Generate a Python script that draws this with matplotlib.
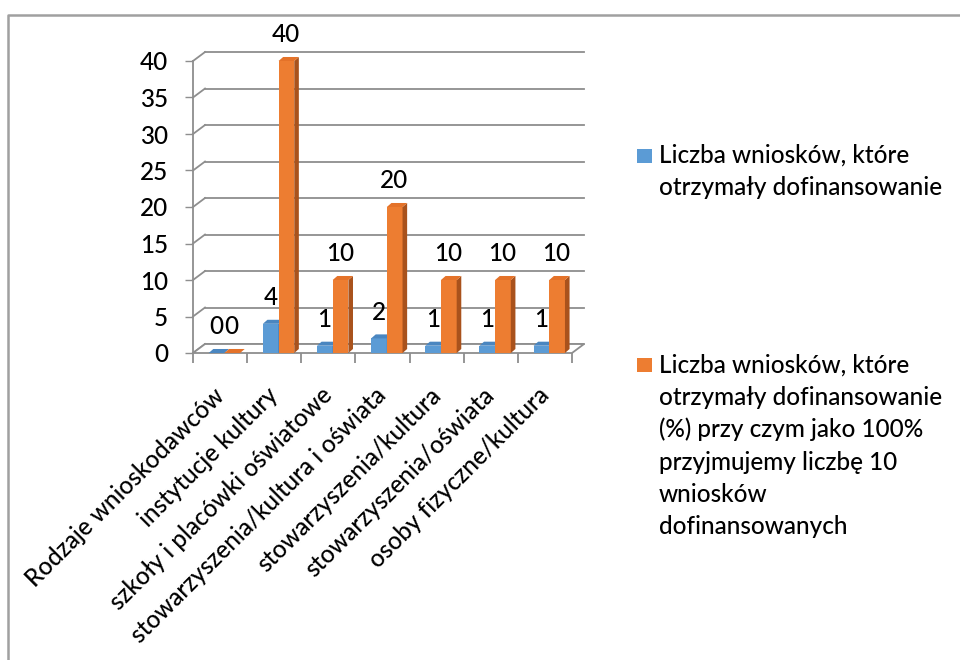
import matplotlib.pyplot as plt
from matplotlib.patches import Polygon, Rectangle
from matplotlib.lines import Line2D
from matplotlib.transforms import ScaledTranslation

plt.rcParams['font.family'] = ['Lato', 'DejaVu Sans']
plt.rcParams['font.weight'] = 500

categories = ["Rodzaje wnioskodawców", "instytucje kultury", "szkoły i placówki oświatowe",
              "stowarzyszenia/kultura i oświata", "stowarzyszenia/kultura",
              "stowarzyszenia/oświata", "osoby fizyczne/kultura"]
wnioski = [0, 4, 1, 2, 1, 1, 1]
procent = [0, 40, 10, 20, 10, 10, 10]
legend_labels = [["Liczba wniosków, które", "otrzymały dofinansowanie"],
                 ["Liczba wniosków, które", "otrzymały dofinansowanie", "(%) przy czym jako 100%",
                  "przyjmujemy liczbę 10", "wniosków", "dofinansowanych"]]
yticks = [0, 5, 10, 15, 20, 25, 30, 35, 40]

blue, blue_top = "#5B9BD5", "#4A86C0"
orange, orange_top, orange_side = "#ED7D31", "#E47229", "#A9521C"
grid_c = "#8E8E8E"
fs = 17.5

W, H = 960, 660
fig = plt.figure(figsize=(9.6, 6.6), dpi=100)
ax = fig.add_axes([193 / W, (H - 353) / H, 379 / W, 292 / H])
n = len(categories)
ax.set_xlim(-0.5, n - 0.5)
ax.set_ylim(0, 40)

# depth offsets (data units)
DX, DY = 0.222, 1.23
bdx, bdy = 0.085, 0.55
w = 0.29

# back wall gridlines and side wall
for v in yticks:
    ax.plot([-0.5 + DX, n - 0.5 + DX], [v + DY, v + DY], color=grid_c, lw=1.3, clip_on=False, zorder=1)
    ax.plot([-0.5, -0.5 + DX], [v, v + DY], color=grid_c, lw=1.3, clip_on=False, zorder=1)

# floor
ax.add_patch(Polygon([(-0.5, 0), (n - 0.5, 0), (n - 0.5 + DX, DY), (-0.5 + DX, DY)],
                     closed=True, facecolor="white", edgecolor=grid_c, lw=1.3, clip_on=False, zorder=2))

xs = list(range(n))
xb = [x - 0.21 for x in xs]
xo = [x + 0.08 for x in xs]


def bar3d(x0, h, front, top, side):
    x1 = x0 + w
    ax.bar(x0, h, width=w, align="edge", color=front, zorder=3, clip_on=False)
    ax.add_patch(Polygon([(x1, 0), (x1 + bdx, bdy), (x1 + bdx, h + bdy), (x1, h)],
                         closed=True, facecolor=side, edgecolor="none", zorder=3, clip_on=False))
    ax.add_patch(Polygon([(x0, h), (x1, h), (x1 + bdx, h + bdy), (x0 + bdx, h + bdy)],
                         closed=True, facecolor=top, edgecolor="none", zorder=3, clip_on=False))


for i in range(n):
    bar3d(xb[i], wnioski[i], blue, blue_top, "#3F72A6")
    bar3d(xo[i], procent[i], orange, orange_top, orange_side)

# data labels
for i in range(n):
    ax.text(xs[i] - 0.07, wnioski[i] + 3.6, str(wnioski[i]), ha="center", va="center", fontsize=fs, zorder=5)
    ax.text(xs[i] + 0.21, procent[i] + 3.6, str(procent[i]), ha="center", va="center", fontsize=fs, zorder=5)

# axes styling
for s in ["top", "right", "bottom"]:
    ax.spines[s].set_visible(False)
ax.spines["left"].set_color(grid_c)
ax.spines["left"].set_linewidth(1.3)
ax.set_yticks(yticks)
ax.tick_params(axis="y", length=5.8, width=1, color=grid_c, pad=12, labelsize=fs)
ax.set_xticks(xs)
ax.set_xticklabels(categories, rotation=45, ha="right", va="top", rotation_mode="anchor", fontsize=fs)
ax.tick_params(axis="x", length=0, pad=22)
shift = ScaledTranslation(-8 / 100, 0, fig.dpi_scale_trans)
for lab in ax.get_xticklabels():
    lab.set_transform(lab.get_transform() + shift)
ax.set_xticks([x - 0.5 for x in range(n + 1)], minor=True)
ax.tick_params(axis="x", which="minor", length=7, width=1.3, color=grid_c)

# legend
sq_y = [149, 358]
base_y = [[163, 195], [373, 405, 437, 470, 502, 534]]
cols = [blue, orange]
for sy, bys, c, lines in zip(sq_y, base_y, cols, legend_labels):
    fig.add_artist(Rectangle((637 / W, 1 - (sy + 14) / H), 15 / W, 14 / H, transform=fig.transFigure,
                             facecolor=c, edgecolor="none"))
    for by, line in zip(bys, lines):
        fig.text(659 / W, 1 - by / H, line, ha="left", va="baseline", fontsize=fs)

# outer border
fig.add_artist(Line2D([8 / W, 8 / W, 1], [0, 1 - 14.5 / H, 1 - 14.5 / H], transform=fig.transFigure,
                      color="#A0A0A0", lw=1.8))

fig.savefig("out.png", dpi=100)
